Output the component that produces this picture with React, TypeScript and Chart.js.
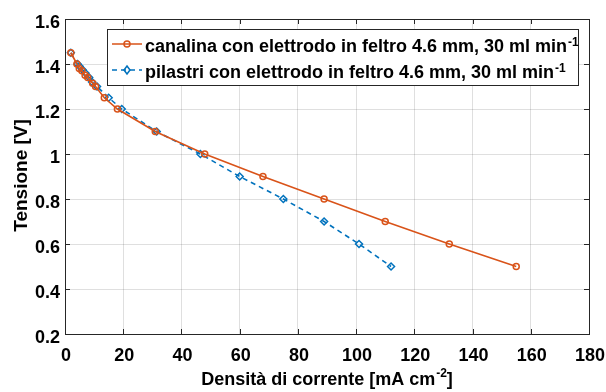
import React, { useEffect, useRef } from "react";
import { Chart, registerables } from "chart.js";

Chart.register(...registerables);

const canalinaX = [2, 4.1, 4.9, 5.8, 6.9, 7.8, 9.5, 10.5, 13.5, 18, 31, 48, 68, 89, 110, 132, 155];
const canalinaY = [1.45, 1.4, 1.38, 1.37, 1.35, 1.34, 1.315, 1.3, 1.25, 1.2, 1.1, 1.0, 0.9, 0.8, 0.7, 0.6, 0.5];
const pilastriX = [2, 4.3, 5, 6, 7, 8.3, 9.3, 11, 15, 19.5, 31.5, 46.5, 60, 75, 89, 101, 112];
const pilastriY = [1.45, 1.4, 1.39, 1.375, 1.36, 1.34, 1.32, 1.3, 1.25, 1.2, 1.1, 1.0, 0.9, 0.8, 0.7, 0.6, 0.5];
const labelCanalina = "canalina con elettrodo in feltro 4.6 mm, 30 ml min";
const labelPilastri = "pilastri con elettrodo in feltro 4.6 mm, 30 ml min";
const legendSup = "-1";
const xTitle = "Densità di corrente [mA cm";
const xTitleSup = "-2";
const xTitleEnd = "]";
const yTitle = "Tensione [V]";

const ORANGE = "#D95319";
const BLUE = "#0072BD";
const AXIS = "#262626";
const FONT = "'Liberation Sans', Arial, Helvetica, sans-serif";
const MAIN = `bold 18px ${FONT}`;
const SUP = `bold 12px ${FONT}`;

const fmt = (v: number) => String(Number(v.toFixed(1)));

const decorPlugin = {
  id: "decor",
  afterDraw(chart: any) {
    const ctx = chart.ctx as CanvasRenderingContext2D;
    const { left, right, top, bottom } = chart.chartArea;
    const xs = chart.scales.x;
    const ys = chart.scales.y;
    ctx.save();
    // box
    ctx.strokeStyle = AXIS;
    ctx.lineWidth = 1;
    ctx.strokeRect(Math.round(left) + 0.5, Math.round(top) + 0.5, Math.round(right - left), Math.round(bottom - top));
    // inward ticks
    ctx.beginPath();
    xs.ticks.forEach((t: any) => {
      const px = Math.round(xs.getPixelForValue(t.value)) + 0.5;
      ctx.moveTo(px, bottom);
      ctx.lineTo(px, bottom - 5);
      ctx.moveTo(px, top);
      ctx.lineTo(px, top + 5);
    });
    ys.ticks.forEach((t: any) => {
      const py = Math.round(ys.getPixelForValue(t.value)) + 0.5;
      ctx.moveTo(left, py);
      ctx.lineTo(left + 5, py);
      ctx.moveTo(right, py);
      ctx.lineTo(right - 5, py);
    });
    ctx.stroke();

    // tick labels
    ctx.fillStyle = "#000";
    ctx.font = MAIN;
    ctx.textBaseline = "alphabetic";
    ctx.textAlign = "center";
    xs.ticks.forEach((t: any) => {
      const px = xs.getPixelForValue(t.value);
      ctx.fillText(String(t.value), px + 1, bottom + 27);
    });
    ctx.textAlign = "right";
    ys.ticks.forEach((t: any) => {
      const py = ys.getPixelForValue(t.value);
      ctx.fillText(fmt(t.value), left - 5, py + 9);
    });

    // x title with superscript
    ctx.textAlign = "left";
    ctx.font = MAIN;
    const w1 = ctx.measureText(xTitle).width;
    ctx.font = SUP;
    const wsup = ctx.measureText(xTitleSup).width;
    ctx.font = MAIN;
    const w2 = ctx.measureText(xTitleEnd).width;
    const total = w1 + wsup + w2 + 1;
    const cx = (left + right) / 2;
    const x0 = cx - total / 2;
    const by = 385;
    ctx.fillText(xTitle, x0, by);
    ctx.font = SUP;
    ctx.fillText(xTitleSup, x0 + w1 + 1, by - 8);
    ctx.font = MAIN;
    ctx.fillText(xTitleEnd, x0 + w1 + wsup + 1, by);

    // y title
    ctx.save();
    ctx.translate(27, (top + bottom) / 2 - 1);
    ctx.rotate(-Math.PI / 2);
    ctx.textAlign = "center";
    ctx.font = `bold 19px ${FONT}`;
    ctx.fillText(yTitle, 0, 0);
    ctx.restore();

    // legend
    const lx = 107, ly = 29, lw = 471, lh = 56;
    ctx.fillStyle = "#fff";
    ctx.fillRect(lx, ly, lw, lh);
    ctx.strokeStyle = AXIS;
    ctx.lineWidth = 1;
    ctx.strokeRect(lx + 0.5, ly + 0.5, lw, lh);

    const rows = [
      { label: labelCanalina, color: ORANGE, dash: [] as number[], y: 44, marker: "circle" },
      { label: labelPilastri, color: BLUE, dash: [5, 4], y: 70, marker: "diamond" },
    ];
    rows.forEach((r) => {
      ctx.strokeStyle = r.color;
      ctx.lineWidth = 1.5;
      ctx.setLineDash(r.dash);
      ctx.beginPath();
      ctx.moveTo(112, r.y);
      ctx.lineTo(142, r.y);
      ctx.stroke();
      ctx.setLineDash([]);
      ctx.beginPath();
      if (r.marker === "circle") {
        ctx.arc(127, r.y, 3, 0, Math.PI * 2);
      } else {
        ctx.moveTo(127, r.y - 4);
        ctx.lineTo(130, r.y);
        ctx.lineTo(127, r.y + 4);
        ctx.lineTo(124, r.y);
        ctx.closePath();
      }
      ctx.stroke();
      ctx.fillStyle = "#000";
      ctx.font = MAIN;
      ctx.textAlign = "left";
      ctx.textBaseline = "alphabetic";
      ctx.fillText(r.label, 145, r.y + 8);
      const tw = ctx.measureText(r.label).width;
      ctx.font = SUP;
      ctx.fillText(legendSup, 145 + tw + 1, r.y + 2);
    });
    ctx.restore();
  },
};

export default function App() {
  const ref = useRef<HTMLCanvasElement>(null);
  useEffect(() => {
    document.body.style.margin = "0";
    const canvas = ref.current!;
    const chart = new Chart(canvas, {
      type: "line",
      data: {
        datasets: [
          {
            label: labelCanalina,
            data: canalinaX.map((x, i) => ({ x, y: canalinaY[i] })),
            borderColor: ORANGE,
            backgroundColor: "rgba(0,0,0,0)",
            borderWidth: 1.6,
            pointStyle: "circle",
            pointRadius: 3,
            pointBorderWidth: 1.5,
            pointBorderColor: ORANGE,
            pointBackgroundColor: "rgba(0,0,0,0)",
            tension: 0,
          },
          {
            label: labelPilastri,
            data: pilastriX.map((x, i) => ({ x, y: pilastriY[i] })),
            borderColor: BLUE,
            backgroundColor: "rgba(0,0,0,0)",
            borderWidth: 1.6,
            borderDash: [5, 4],
            pointStyle: "rectRot",
            pointRadius: 3.5,
            pointBorderWidth: 1.5,
            pointBorderColor: BLUE,
            pointBackgroundColor: "rgba(0,0,0,0)",
            tension: 0,
          },
        ],
      },
      options: {
        animation: false,
        responsive: false,
        maintainAspectRatio: false,
        layout: { padding: { top: 19, right: 17, left: 0, bottom: 0 } },
        plugins: { legend: { display: false }, tooltip: { enabled: false } },
        scales: {
          x: {
            type: "linear",
            min: 0,
            max: 180,
            ticks: { stepSize: 20, display: false },
            grid: { color: "rgba(38,38,38,0.15)", drawTicks: false },
            border: { display: false },
            afterFit: (s: any) => {
              s.height = 58;
            },
          },
          y: {
            type: "linear",
            min: 0.2,
            max: 1.6,
            ticks: { stepSize: 0.2, display: false },
            grid: { color: "rgba(38,38,38,0.15)", drawTicks: false },
            border: { display: false },
            afterFit: (s: any) => {
              s.width = 65;
            },
          },
        },
      },
      plugins: [decorPlugin],
    } as any);
    return () => chart.destroy();
  }, []);
  return (
    <div style={{ position: "absolute", left: 0, top: 0, width: 606, height: 392, background: "#fff" }}>
      <canvas ref={ref} width={606} height={392} style={{ width: 606, height: 392 }} />
    </div>
  );
}
